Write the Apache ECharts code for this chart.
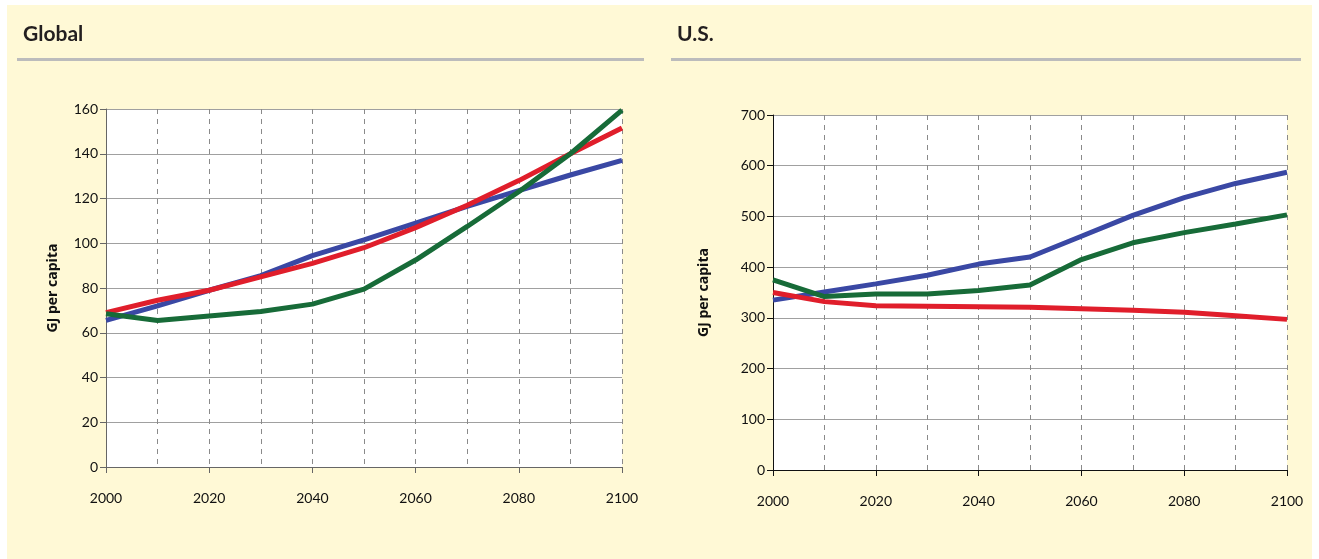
<!DOCTYPE html>
<html>
<head>
<meta charset="utf-8">
<script src="https://cdn.jsdelivr.net/npm/echarts@6/dist/echarts.min.js"></script>
<style>
  html, body { margin: 0; padding: 0; background: #fff; }
  #chart { width: 1319px; height: 559px; }
</style>
</head>
<body>
<div id="chart"></div>
<script>
// 年份（每10年一个点）
var years = ['2000','2010','2020','2030','2040','2050','2060','2070','2080','2090','2100'];

// Global, GJ per capita
var globalBlue  = [65.5, 72, 79, 85.5, 94.5, 101.5, 109, 116.5, 123.5, 130.5, 137];
var globalRed   = [69, 74.5, 79, 85, 91, 98, 107, 117, 128, 140, 151.5];
var globalGreen = [68.5, 65.5, 67.5, 69.5, 72.8, 79.5, 92.5, 107.5, 123, 140, 159.5];

// U.S., GJ per capita
var usBlue  = [335, 351, 367, 384, 406, 420, 461, 502, 537, 565, 587];
var usGreen = [375, 342, 347, 347, 354, 365, 415, 448, 468, 485, 503];
var usRed   = [350, 332, 324, 323, 322, 321, 318, 315, 311, 304, 297];

var colors = ['#3a48a4', '#e01e2b', '#176b38'];

var myChart = echarts.init(document.getElementById('chart'));

function xAxisCfg(gridIndex, lineColor) {
    return {
        type: 'category',
        gridIndex: gridIndex,
        data: years,
        boundaryGap: false,
        axisLine: { lineStyle: { color: lineColor, width: 1 } },
        axisTick: { interval: 1, length: 6, lineStyle: { color: lineColor } },
        axisLabel: { interval: 1, margin: 24, color: '#111', fontSize: 14, fontFamily: 'Lato' },
        splitLine: {
            show: true,
            interval: 0,
            lineStyle: { color: '#8a8a8a', type: [5, 5], width: 1 }
        }
    };
}

function yAxisCfg(gridIndex, max, step, gap, lineColor) {
    return {
        type: 'value',
        gridIndex: gridIndex,
        min: 0,
        max: max,
        interval: step,
        name: 'GJ per capita',
        nameLocation: 'middle',
        nameGap: gap,
        nameTextStyle: { color: '#111', fontSize: 14, fontWeight: 'bold', fontFamily: 'Open Sans' },
        axisLine: { show: true, lineStyle: { color: lineColor, width: 1 } },
        axisTick: { show: true, length: 6, lineStyle: { color: lineColor } },
        axisLabel: { margin: 8, color: '#111', fontSize: 14, fontFamily: 'Lato' },
        splitLine: { show: true, lineStyle: { color: '#a0a0a0', width: 1 } }
    };
}

function line(name, data, color, idx) {
    return {
        name: name,
        type: 'line',
        xAxisIndex: idx,
        yAxisIndex: idx,
        data: data,
        symbol: 'none',
        lineStyle: { color: color, width: 5 },
        itemStyle: { color: color }
    };
}

var option = {
    backgroundColor: '#fff',
    animation: false,
    title: [
        { text: 'Global', left: 18, top: 19,
          textStyle: { fontSize: 21, fontWeight: 'bold', color: '#231f20', fontFamily: 'Lato' } },
        { text: 'U.S.', left: 672, top: 19,
          textStyle: { fontSize: 21, fontWeight: 'bold', color: '#231f20', fontFamily: 'Lato' } }
    ],
    graphic: [
        { type: 'rect', z: -10, shape: { x: 7, y: 5, width: 1305, height: 554 },
          style: { fill: '#fff9d6' } },
        { type: 'rect', shape: { x: 17, y: 58, width: 627, height: 3 },
          style: { fill: '#bcbcbc' } },
        { type: 'rect', shape: { x: 671, y: 58, width: 630, height: 3 },
          style: { fill: '#bcbcbc' } }
    ],
    grid: [
        { left: 106, right: 697, top: 109, bottom: 92, show: true,
          backgroundColor: '#fff', borderWidth: 0 },
        { left: 773, right: 32, top: 115, bottom: 89, show: true,
          backgroundColor: '#fff', borderWidth: 0 }
    ],
    xAxis: [xAxisCfg(0, '#666'), xAxisCfg(1, '#111')],
    yAxis: [yAxisCfg(0, 160, 20, 46, '#666'), yAxisCfg(1, 700, 100, 62, '#111')],
    series: [
        line('Blue', globalBlue, colors[0], 0),
        line('Red', globalRed, colors[1], 0),
        line('Green', globalGreen, colors[2], 0),
        line('Blue', usBlue, colors[0], 1),
        line('Green', usGreen, colors[2], 1),
        line('Red', usRed, colors[1], 1)
    ]
};

myChart.setOption(option);
</script>
</body>
</html>
